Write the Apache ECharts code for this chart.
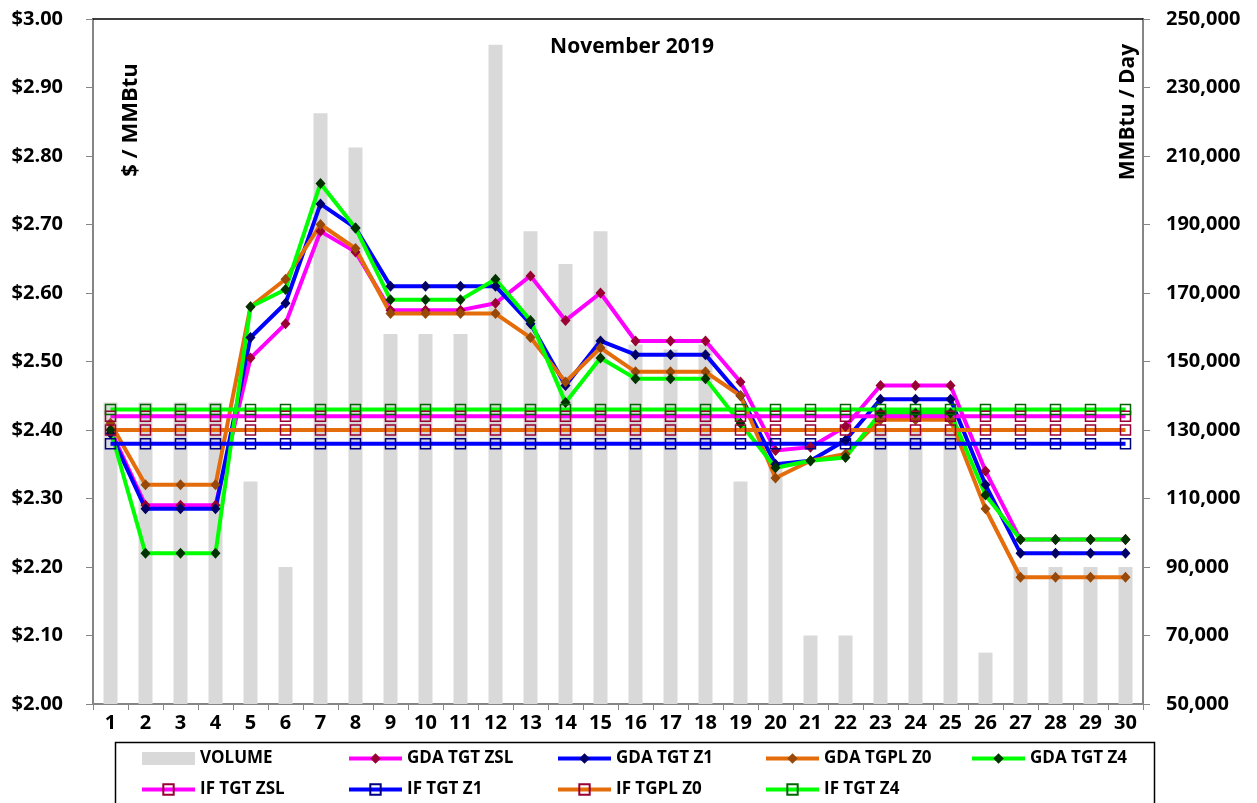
<!DOCTYPE html>
<html>
<head>
<meta charset="utf-8">
<title>November 2019</title>
<script src="https://cdn.jsdelivr.net/npm/echarts@6/dist/echarts.min.js"></script>
<style>
  html, body { margin: 0; padding: 0; background: #fff; }
  #chart { width: 1257px; height: 803px; }
</style>
</head>
<body>
<div id="chart"></div>
<script>
// 日期 (November 2019)
var days = ['1', '2', '3', '4', '5', '6', '7', '8', '9', '10', '11', '12', '13', '14', '15',
  '16', '17', '18', '19', '20', '21', '22', '23', '24', '25', '26', '27', '28', '29', '30']

// 成交量 MMBtu / Day
var volume = [138000, 138000, 138000, 138000, 115000, 90000, 222500, 212500, 158000, 158000,
  158000, 242500, 188000, 178500, 188000, 155000, 153500, 155000, 115000, 119500,
  70000, 70000, 130000, 130000, 130000, 65000, 90000, 90000, 90000, 90000]

// GDA daily prices $ / MMBtu
var gdaTgtZsl = [2.40, 2.29, 2.29, 2.29, 2.505, 2.555, 2.69, 2.66, 2.575, 2.575,
  2.575, 2.585, 2.625, 2.56, 2.60, 2.53, 2.53, 2.53, 2.47, 2.37,
  2.375, 2.405, 2.465, 2.465, 2.465, 2.34, 2.24, 2.24, 2.24, 2.24]
var gdaTgtZ1 = [2.395, 2.285, 2.285, 2.285, 2.535, 2.585, 2.73, 2.695, 2.61, 2.61,
  2.61, 2.61, 2.555, 2.465, 2.53, 2.51, 2.51, 2.51, 2.45, 2.35,
  2.355, 2.385, 2.445, 2.445, 2.445, 2.32, 2.22, 2.22, 2.22, 2.22]
var gdaTgplZ0 = [2.41, 2.32, 2.32, 2.32, 2.58, 2.62, 2.70, 2.665, 2.57, 2.57,
  2.57, 2.57, 2.535, 2.47, 2.52, 2.485, 2.485, 2.485, 2.45, 2.33,
  2.355, 2.365, 2.415, 2.415, 2.415, 2.285, 2.185, 2.185, 2.185, 2.185]
var gdaTgtZ4 = [2.40, 2.22, 2.22, 2.22, 2.58, 2.605, 2.76, 2.695, 2.59, 2.59,
  2.59, 2.62, 2.56, 2.44, 2.505, 2.475, 2.475, 2.475, 2.41, 2.345,
  2.355, 2.36, 2.425, 2.425, 2.425, 2.305, 2.24, 2.24, 2.24, 2.24]

// IF monthly index prices
var ifTgtZsl = [2.42, 2.42, 2.42, 2.42, 2.42, 2.42, 2.42, 2.42, 2.42, 2.42,
  2.42, 2.42, 2.42, 2.42, 2.42, 2.42, 2.42, 2.42, 2.42, 2.42,
  2.42, 2.42, 2.42, 2.42, 2.42, 2.42, 2.42, 2.42, 2.42, 2.42]
var ifTgtZ1 = [2.38, 2.38, 2.38, 2.38, 2.38, 2.38, 2.38, 2.38, 2.38, 2.38,
  2.38, 2.38, 2.38, 2.38, 2.38, 2.38, 2.38, 2.38, 2.38, 2.38,
  2.38, 2.38, 2.38, 2.38, 2.38, 2.38, 2.38, 2.38, 2.38, 2.38]
var ifTgplZ0 = [2.40, 2.40, 2.40, 2.40, 2.40, 2.40, 2.40, 2.40, 2.40, 2.40,
  2.40, 2.40, 2.40, 2.40, 2.40, 2.40, 2.40, 2.40, 2.40, 2.40,
  2.40, 2.40, 2.40, 2.40, 2.40, 2.40, 2.40, 2.40, 2.40, 2.40]
var ifTgtZ4 = [2.43, 2.43, 2.43, 2.43, 2.43, 2.43, 2.43, 2.43, 2.43, 2.43,
  2.43, 2.43, 2.43, 2.43, 2.43, 2.43, 2.43, 2.43, 2.43, 2.43,
  2.43, 2.43, 2.43, 2.43, 2.43, 2.43, 2.43, 2.43, 2.43, 2.43]

// 图例分列
var legendColumns = [
  [{ name: 'VOLUME', icon: 'rect' }, 'IF TGT ZSL'],
  ['GDA TGT ZSL', 'IF TGT Z1'],
  ['GDA TGT Z1', 'IF TGPL Z0'],
  ['GDA TGPL Z0', 'IF TGT Z4'],
  ['GDA TGT Z4']
]
var legendLefts = [135, 342, 551, 759, 965]

var FONT = 'Open Sans'
var AXIS_GRAY = '#868686'

// 折线 - GDA 用菱形点
function gdaLine(name, data, lineColor, dotColor) {
  return {
    name: name,
    type: 'line',
    yAxisIndex: 0,
    data: data,
    symbol: 'diamond',
    symbolSize: [10, 11],
    showAllSymbol: true,
    lineStyle: { color: lineColor, width: 4 },
    itemStyle: { color: dotColor, borderWidth: 0 }
  }
}

// 折线 - IF 用空心方块
function ifLine(name, data, lineColor, boxColor) {
  return {
    name: name,
    type: 'line',
    yAxisIndex: 0,
    data: data,
    symbol: 'rect',
    symbolSize: 10,
    showAllSymbol: true,
    lineStyle: { color: lineColor, width: 4 },
    itemStyle: { color: 'rgba(0,0,0,0)', borderColor: boxColor, borderWidth: 1.5 }
  }
}

var myChart = echarts.init(document.getElementById('chart'))

var legends = legendColumns.map(function(col, i) {
  return {
    orient: 'vertical',
    left: legendLefts[i],
    top: 745,
    itemWidth: 53,
    itemHeight: 13,
    itemGap: 14,
    lineStyle: { width: 4 },
    textStyle: { fontFamily: FONT, fontWeight: 'bold', fontSize: 17, color: '#000' },
    data: col
  }
})

var option = {
  animation: false,
  backgroundColor: '#fff',
  title: {
    text: 'November 2019',
    left: 627,
    top: 32,
    textAlign: 'center',
    textStyle: { fontFamily: FONT, fontWeight: 'bold', fontSize: 21, color: '#000' }
  },
  grid: {
    left: 93,
    right: 114,
    top: 19,
    bottom: 99,
    outerBoundsMode: 'none'
  },
  legend: legends,
  xAxis: [
    {
      type: 'category',
      data: days,
      boundaryGap: true,
      axisLine: { show: true, lineStyle: { color: AXIS_GRAY, width: 2 } },
      axisTick: { show: true, length: 6, lineStyle: { color: AXIS_GRAY } },
      axisLabel: { fontFamily: FONT, fontWeight: 'bold', fontSize: 20, color: '#000', margin: 9, interval: 0 },
      splitLine: { show: false }
    },
    {
      // 顶部黑线
      type: 'category',
      data: days,
      position: 'top',
      axisLine: { show: true, lineStyle: { color: '#000', width: 1.5 } },
      axisTick: { show: false },
      axisLabel: { show: false },
      splitLine: { show: false }
    }
  ],
  yAxis: [
    {
      type: 'value',
      min: 2,
      max: 3,
      interval: 0.1,
      position: 'left',
      axisLine: { show: true, lineStyle: { color: AXIS_GRAY, width: 2 } },
      axisTick: { show: true, length: 7, lineStyle: { color: AXIS_GRAY } },
      axisLabel: {
        fontFamily: FONT, fontWeight: 'bold', fontSize: 20, color: '#000', margin: 30,
        formatter: function(v) { return '$' + v.toFixed(2) }
      },
      splitLine: { show: false }
    },
    {
      type: 'value',
      min: 50000,
      max: 250000,
      alignTicks: true,
      position: 'right',
      axisLine: { show: true, lineStyle: { color: AXIS_GRAY, width: 2 } },
      axisTick: { show: true, length: 7, lineStyle: { color: AXIS_GRAY } },
      axisLabel: {
        fontFamily: FONT, fontWeight: 'bold', fontSize: 20, color: '#000', margin: 23,
        formatter: function(v) { return Math.round(v).toLocaleString('en-US') }
      },
      splitLine: { show: false }
    }
  ],
  graphic: [
    {
      type: 'text',
      x: 131,
      y: 120,
      rotation: Math.PI / 2,
      style: { text: '$ / MMBtu', fontFamily: FONT, fontWeight: 'bold', fontSize: 22, fill: '#000', textAlign: 'center', textVerticalAlign: 'middle' }
    },
    {
      type: 'text',
      x: 1128,
      y: 112,
      rotation: Math.PI / 2,
      style: { text: 'MMBtu / Day', fontFamily: FONT, fontWeight: 'bold', fontSize: 21, fill: '#000', textAlign: 'center', textVerticalAlign: 'middle' }
    },
    {
      // 图例外框
      type: 'rect',
      left: 113,
      top: 740,
      shape: { width: 1039, height: 80 },
      style: { fill: 'none', stroke: '#000', lineWidth: 1.5 },
      z: -1
    }
  ],
  series: [
    {
      name: 'VOLUME',
      type: 'bar',
      yAxisIndex: 1,
      data: volume,
      barWidth: 14,
      itemStyle: { color: '#d9d9d9' },
      z: 1
    },
    gdaLine('GDA TGT ZSL', gdaTgtZsl, '#ff00ff', '#990033'),
    gdaLine('GDA TGT Z1', gdaTgtZ1, '#0000ff', '#000066'),
    gdaLine('GDA TGPL Z0', gdaTgplZ0, '#e46c0a', '#984807'),
    gdaLine('GDA TGT Z4', gdaTgtZ4, '#00ff00', '#003300'),
    ifLine('IF TGT ZSL', ifTgtZsl, '#ff00ff', '#990033'),
    ifLine('IF TGT Z1', ifTgtZ1, '#0000ff', '#000080'),
    ifLine('IF TGPL Z0', ifTgplZ0, '#e46c0a', '#990033'),
    ifLine('IF TGT Z4', ifTgtZ4, '#00ff00', '#006600')
  ]
}

myChart.setOption(option)

window.addEventListener('resize', () => { myChart.resize() })
</script>
</body>
</html>
